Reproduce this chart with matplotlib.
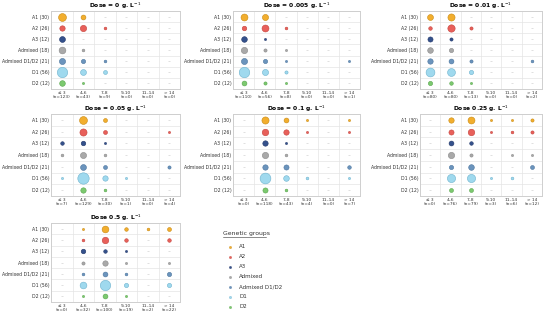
import numpy as np
import matplotlib
matplotlib.use("Agg")
import matplotlib.pyplot as plt
from matplotlib.lines import Line2D

groups = ["A1 (30)", "A2 (26)", "A3 (12)", "Admixed (18)", "Admixed D1/D2 (21)", "D1 (56)", "D2 (12)"]
legend_names = ["A1", "A2", "A3", "Admixed", "Admixed D1/D2", "D1", "D2"]
classes = ["≤ 3", "4–6", "7–8", "9–10", "11–14", "> 14"]
colors = ["#F2AE2E", "#E8605A", "#34518C", "#A9A9A9", "#6B94BD", "#9FD9EE", "#7CC96F"]
edges = ["#C98A12", "#C5433D", "#22386A", "#8A8A8A", "#4C759E", "#6FB3CE", "#58A64D"]

titles = ["Dose = 0 g. L$^{-1}$", "Dose = 0.005 g. L$^{-1}$", "Dose = 0.01 g. L$^{-1}$",
          "Dose = 0.05 g. L$^{-1}$", "Dose = 0.1 g. L$^{-1}$", "Dose 0.25 g. L$^{-1}$",
          "Dose 0.5 g. L$^{-1}$"]
n_totals = [
    [123, 43, 9, 0, 0, 0],
    [110, 56, 8, 0, 0, 1],
    [80, 80, 13, 0, 0, 2],
    [7, 129, 30, 1, 0, 4],
    [0, 118, 43, 4, 0, 7],
    [0, 76, 79, 3, 6, 12],
    [0, 32, 100, 19, 2, 22],
]

# counts per group (rows) x class (columns), one table per dose
dose_0 = [[22, 8, 0, 0, 0, 0],
          [10, 14, 2, 0, 0, 0],
          [12, 0, 0, 0, 0, 0],
          [16, 2, 0, 0, 0, 0],
          [13, 6, 2, 0, 0, 0],
          [39, 12, 5, 0, 0, 0],
          [11, 1, 0, 0, 0, 0]]
dose_0005 = [[17, 13, 0, 0, 0, 0],
             [7, 17, 2, 0, 0, 0],
             [11, 1, 0, 0, 0, 0],
             [14, 3, 1, 0, 0, 0],
             [13, 6, 1, 0, 0, 1],
             [40, 13, 3, 0, 0, 0],
             [8, 3, 1, 0, 0, 0]]
dose_001 = [[12, 18, 0, 0, 0, 0],
            [4, 19, 3, 0, 0, 0],
            [9, 3, 0, 0, 0, 0],
            [11, 6, 0, 0, 0, 0],
            [10, 8, 3, 0, 0, 2],
            [28, 22, 6, 0, 0, 0],
            [6, 4, 1, 0, 0, 0]]
dose_005 = [[0, 22, 5, 0, 0, 0],
            [0, 18, 5, 0, 0, 1],
            [4, 7, 1, 0, 0, 0],
            [2, 13, 2, 0, 0, 0],
            [0, 12, 5, 0, 0, 3],
            [1, 47, 10, 1, 0, 0],
            [0, 10, 2, 0, 0, 0]]
dose_01 = [[0, 18, 8, 1, 0, 1],
           [0, 15, 10, 1, 0, 1],
           [0, 10, 1, 0, 0, 0],
           [0, 14, 2, 0, 0, 0],
           [0, 10, 9, 0, 0, 4],
           [0, 42, 11, 2, 0, 1],
           [0, 9, 2, 0, 0, 0]]
dose_025 = [[0, 10, 17, 1, 1, 3],
            [0, 9, 15, 1, 2, 3],
            [0, 8, 4, 0, 0, 0],
            [0, 14, 3, 0, 1, 1],
            [0, 6, 11, 0, 0, 5],
            [0, 24, 24, 1, 2, 0],
            [0, 5, 5, 0, 0, 0]]
dose_05 = [[0, 1, 16, 4, 2, 5],
           [0, 2, 15, 4, 0, 4],
           [0, 7, 4, 1, 0, 0],
           [0, 3, 10, 1, 0, 1],
           [0, 2, 8, 2, 0, 6],
           [0, 16, 39, 6, 0, 6],
           [0, 1, 8, 1, 0, 0]]
counts = [dose_0, dose_0005, dose_001, dose_005, dose_01, dose_025, dose_05]

W, H = 550, 320
fig = plt.figure(figsize=(W / 100, H / 100), dpi=100)
plt.rcParams["font.family"] = "DejaVu Sans"

# panel boxes in pixels: left, top, right, bottom
boxes = [(51, 11, 180, 89), (233, 11, 360, 89), (420, 11, 542, 89),
         (51, 114, 180, 196), (233, 114, 360, 196), (420, 114, 542, 196),
         (51, 223, 180, 302)]

for k, (l, t, r, b) in enumerate(boxes):
    ax = fig.add_axes([l / W, 1 - b / H, (r - l) / W, (b - t) / H])
    data = np.array(counts[k])
    for gi in range(len(groups)):
        for ci in range(len(classes)):
            v = data[gi, ci]
            if v > 0:
                ax.scatter(ci, gi, s=v * 1.4 + 1, color=colors[gi], edgecolor=edges[gi],
                           linewidth=0.4, zorder=3)
            else:
                ax.scatter(ci, gi, s=2, marker="_", color="#C8C8C8", linewidth=0.4, zorder=3)
    ax.set_xlim(-0.5, len(classes) - 0.5)
    ax.set_ylim(len(groups) - 0.5, -0.5)
    ax.set_xticks(range(len(classes)))
    ax.set_xticklabels([f"{c}\n(n={n})" for c, n in zip(classes, n_totals[k])],
                       fontsize=3.1, color="#333333", linespacing=1.0)
    ax.set_yticks(range(len(groups)))
    ax.set_yticklabels(groups, fontsize=3.3, color="#333333")
    ax.set_xticks(np.arange(-0.5, len(classes), 1), minor=True)
    ax.set_yticks(np.arange(-0.5, len(groups), 1), minor=True)
    ax.grid(which="minor", color="#E4E4E4", linewidth=0.5)
    ax.tick_params(which="both", length=0, pad=1.5)
    ax.tick_params(axis="y", pad=1.2)
    for sp in ax.spines.values():
        sp.set_color("#CFCFCF")
        sp.set_linewidth(0.7)
    ax.set_title(titles[k], fontsize=4.3, fontweight="bold", pad=1.5)

# legend block
fig.text(223 / W, 1 - 233 / H, "Genetic groups", fontsize=4.4, color="#333333",
         va="center", ha="left")
fig.add_artist(Line2D([223 / W, 266 / W], [1 - 237 / H, 1 - 237 / H], color="#333333",
                      linewidth=0.4))
for i, name in enumerate(legend_names):
    y = 1 - (247 + i * 10) / H
    fig.add_artist(Line2D([230 / W], [y], marker="o", markersize=1.6, color=colors[i],
                          markeredgecolor=edges[i], markeredgewidth=0.3, linestyle=""))
    fig.text(239 / W, y, name, fontsize=4.0, color="#333333", va="center", ha="left")

fig.savefig("out.png", dpi=100)
